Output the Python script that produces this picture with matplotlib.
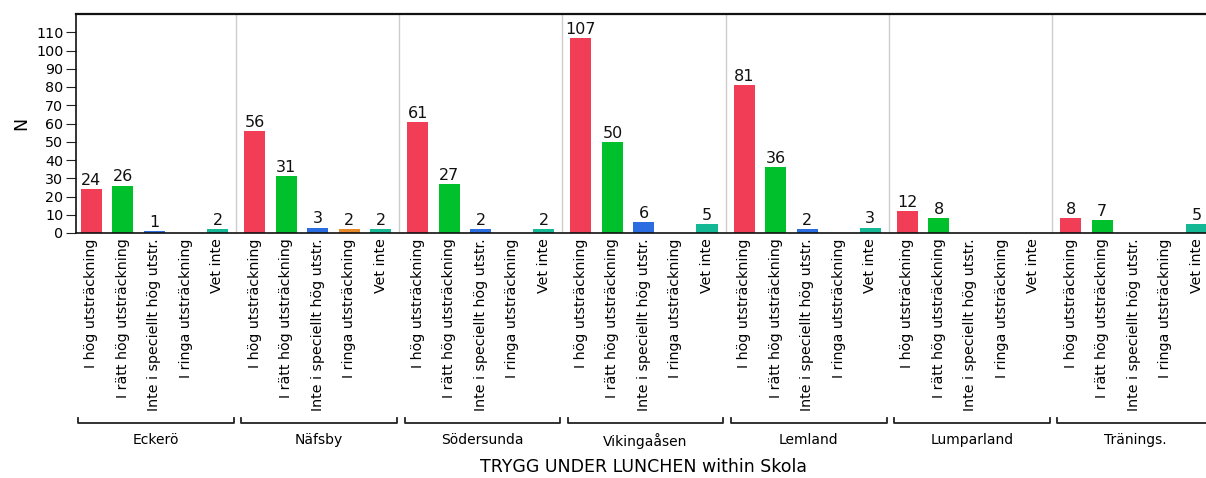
import matplotlib
matplotlib.use("Agg")
import matplotlib.pyplot as plt
import matplotlib.transforms as mtransforms
import numpy as np

schools = ["Eckerö", "Näfsby", "Södersunda", "Vikingaåsen", "Lemland", "Lumparland", "Tränings."]
answers = ["I hög utsträckning", "I rätt hög utsträckning", "Inte i speciellt hög utstr.",
           "I ringa utsträckning", "Vet inte"]
hog = [24, 56, 61, 107, 81, 12, 8]
ratt_hog = [26, 31, 27, 50, 36, 8, 7]
inte_spec = [1, 3, 2, 6, 2, 0, 0]
ringa = [0, 2, 0, 0, 0, 0, 0]
vet_inte = [2, 2, 2, 5, 3, 0, 5]
series = [hog, ratt_hog, inte_spec, ringa, vet_inte]
colors = ["#f23d57", "#00c12b", "#2a6de0", "#e8892b", "#14b894"]

GROUP = 5.18   # group spacing in bar units
W = 0.667

fig = plt.figure(figsize=(12.06, 4.78), dpi=100)
ax = fig.add_axes([76 / 1206, 1 - 233 / 478, 1 - 76 / 1206, 219 / 478])

for i, (vals, col) in enumerate(zip(series, colors)):
    xs = np.arange(len(schools)) * GROUP + i
    ax.bar(xs, vals, width=W, color=col, zorder=2)
    for x, v in zip(xs, vals):
        if v > 0:
            ax.text(x, v + 0.6, str(v), ha="center", va="bottom", fontsize=11.5, color="#111111")

# separators between groups
for g in range(1, len(schools)):
    ax.axvline(g * GROUP - (GROUP - 4) / 2, color="#cccccc", lw=1, zorder=1)

ax.set_ylim(0, 120)
ax.set_xlim(-0.49, 6 * GROUP + 4.3)
ax.set_yticks(range(0, 111, 10))
ax.tick_params(axis="y", labelsize=10.3, length=7, color="#222222", pad=2)
ax.set_ylabel("N", fontsize=12.5, labelpad=4)

xt = [g * GROUP + i for g in range(len(schools)) for i in range(len(answers))]
ax.set_xticks(xt)
ax.set_xticklabels(answers * len(schools), rotation=90, fontsize=10.3)
ax.tick_params(axis="x", length=0, pad=4)

for s in ["left", "bottom", "top"]:
    ax.spines[s].set_color("#111111")
ax.spines["left"].set_linewidth(1.2)
ax.spines["top"].set_linewidth(1.6)
ax.spines["bottom"].set_linewidth(1.2)
ax.spines["right"].set_visible(False)

# group brackets and names
trans = mtransforms.blended_transform_factory(ax.transData, ax.transAxes)
yb = -(423 - 233) / 219
for g, name in enumerate(schools):
    x0 = g * GROUP - 0.42
    x1 = g * GROUP + 4.52
    ax.plot([x0, x0, x1, x1], [yb + 0.022, yb, yb, yb + 0.022], color="#222222", lw=1.3,
            transform=trans, clip_on=False)
    ax.text((x0 + x1) / 2, yb - 0.045, name, ha="center", va="top", fontsize=10,
            transform=trans)

fig.text(644 / 1206, 1 - 467 / 478, "TRYGG UNDER LUNCHEN within Skola",
         ha="center", va="center", fontsize=12.5)

fig.savefig("out.png", dpi=100)
